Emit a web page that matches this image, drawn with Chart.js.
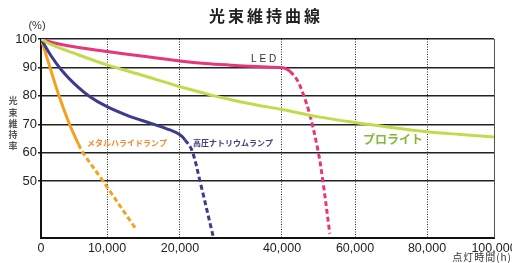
<!DOCTYPE html>
<html><head><meta charset="utf-8">
<script src="https://cdn.jsdelivr.net/npm/chart.js@4.4.1/dist/chart.umd.min.js"></script>
<style>html,body{margin:0;padding:0;background:#fff;overflow:hidden}</style>
</head><body>
<canvas id="c" width="512" height="263"></canvas>
<script>
// ---- data ----
const xTicks = [0, 10000, 20000, 40000, 60000, 80000, 100000];
const yTicks = [50, 60, 70, 80, 90, 100];

const ledHours  = [0, 2000, 5000, 10000, 15000, 20000, 25000, 30000, 35000, 40000, 41000, 42200, 44100, 45700, 47700, 49900, 51200, 53100];
const ledValues = [100, 98.6, 97.3, 95.6, 93.9, 92.3, 91.4, 90.8, 90.3, 89.9, 89.6, 88.6, 85.7, 81.0, 73.0, 60.5, 50.0, 31.5];
const ledDashFrom = 42200;

const proliteHours  = [0, 1400, 5000, 10000, 14500, 20000, 25000, 30000, 35000, 40000, 50000, 60000, 70000, 80000, 90000, 100000];
const proliteValues = [100, 98.2, 95.0, 90.9, 87.5, 83.2, 80.8, 78.6, 76.8, 75.2, 72.6, 70.6, 68.9, 67.4, 66.4, 65.5];

const sodiumHours  = [0, 1520, 3030, 5000, 7420, 10000, 13010, 16030, 18630, 20000, 20980, 22350, 23920, 26470];
const sodiumValues = [100, 94.1, 89.3, 84.4, 79.7, 76.2, 72.9, 70.3, 68.0, 66.3, 64.5, 60.8, 50, 30.8];
const sodiumDashFrom = 20980;

const halideHours  = [0, 700, 1360, 2730, 4320, 5680, 6360, 9390, 14000];
const halideValues = [100, 95, 90, 80, 70, 63, 60, 50, 33];
const halideDashFrom = 5680;

const seriesNames = ['LED', 'プロライト', '高圧ナトリウムランプ', 'メタルハライドランプ'];

// ---- segmented hour axis (tick spacing of the original drawing) ----
const AXIS_FRACTIONS = [0, 0.1457, 0.3068, 0.5320, 0.6932, 0.8521, 1];
function hoursToFraction(v) {
  const k = xTicks, f = AXIS_FRACTIONS, n = k.length - 1;
  if (v <= k[0]) return f[0] + (v - k[0]) / (k[1] - k[0]) * (f[1] - f[0]);
  for (let i = 1; i <= n; i++) {
    if (v <= k[i]) return f[i - 1] + (v - k[i - 1]) / (k[i] - k[i - 1]) * (f[i] - f[i - 1]);
  }
  return f[n] + (v - k[n]) / (k[n] - k[n - 1]) * (f[n] - f[n - 1]);
}
function fractionToHours(d) {
  const k = xTicks, f = AXIS_FRACTIONS, n = k.length - 1;
  for (let i = 1; i <= n; i++) {
    if (d <= f[i] || i === n) return k[i - 1] + (d - f[i - 1]) / (f[i] - f[i - 1]) * (k[i] - k[i - 1]);
  }
}
class SegmentedHoursScale extends Chart.LinearScale {
  getPixelForValue(value) {
    if (value === null || value === undefined || Number.isNaN(+value)) return NaN;
    return this.getPixelForDecimal(hoursToFraction(+value));
  }
  getValueForPixel(pixel) {
    return fractionToHours(this.getDecimalForPixel(pixel));
  }
}
SegmentedHoursScale.id = 'segmentedHours';
Chart.register(SegmentedHoursScale);

function pts(h, v) { return h.map((x, i) => ({ x: x, y: v[i] })); }
function dashAfter(hours, from) {
  return { borderDash: ctx => hours[ctx.p0DataIndex] >= from ? [5, 3] : undefined };
}

const annotations = {
  id: 'annotations',
  beforeDatasetsDraw(chart) {
    const ctx = chart.ctx, a = chart.chartArea;
    ctx.save();
    ctx.strokeStyle = '#555';
    ctx.lineWidth = 1;
    ctx.beginPath();
    ctx.moveTo(Math.round(a.right) + 0.5, a.top);
    ctx.lineTo(Math.round(a.right) + 0.5, a.bottom);
    ctx.stroke();
    ctx.restore();
  },
  afterDraw(chart) {
    const ctx = chart.ctx, xs = chart.scales.x, ys = chart.scales.y;
    ctx.save();
    ctx.textBaseline = 'middle';
    // title
    ctx.fillStyle = '#222';
    ctx.font = 'bold 16px "Noto Sans CJK JP"';
    ctx.letterSpacing = '3px';
    ctx.textAlign = 'left';
    ctx.fillText('光束維持曲線', 209, 16);
    // unit
    ctx.letterSpacing = '0px';
    ctx.font = '11px "Liberation Sans"';
    ctx.fillStyle = '#333';
    ctx.textAlign = 'center';
    ctx.fillText('(%)', 37, 26);
    // vertical y title
    ctx.font = 'bold 9px "Noto Sans CJK JP"';
    ctx.fillStyle = '#555';
    const yt = '光束維持率';
    for (let i = 0; i < yt.length; i++) ctx.fillText(yt[i], 13, 101 + i * 11.2);
    // x title
    ctx.font = '10px "Noto Sans CJK JP"';
    ctx.fillStyle = '#333';
    ctx.textAlign = 'right';
    ctx.letterSpacing = '1px';
    ctx.fillText('点灯時間(h)', 512, 257);
    // series labels
    ctx.textAlign = 'left';
    ctx.letterSpacing = '3px';
    ctx.font = '10px "Liberation Sans"';
    ctx.fillStyle = '#3a2a34';
    ctx.fillText(seriesNames[0], xs.getPixelForValue(33900), ys.getPixelForValue(93));
    ctx.letterSpacing = '0px';
    ctx.font = 'bold 12px "Noto Sans CJK JP"';
    ctx.fillStyle = '#86b83a';
    ctx.fillText(seriesNames[1], xs.getPixelForValue(62200), ys.getPixelForValue(64.7));
    ctx.font = 'bold 8px "Noto Sans CJK JP"';
    ctx.fillStyle = '#3f3d80';
    ctx.fillText(seriesNames[2], xs.getPixelForValue(22550), ys.getPixelForValue(63.4));
    ctx.fillStyle = '#ef8a2e';
    ctx.fillText(seriesNames[3], xs.getPixelForValue(6970), ys.getPixelForValue(63.4));
    ctx.restore();
  }
};

new Chart(document.getElementById('c'), {
  type: 'line',
  data: {
    datasets: [
      { label: seriesNames[1], data: pts(proliteHours, proliteValues), borderColor: '#c3da4c' },
      { label: seriesNames[0], data: pts(ledHours, ledValues), borderColor: '#e4387a', segment: dashAfter(ledHours, ledDashFrom) },
      { label: seriesNames[2], data: pts(sodiumHours, sodiumValues), borderColor: '#3c3b8c', segment: dashAfter(sodiumHours, sodiumDashFrom) },
      { label: seriesNames[3], data: pts(halideHours, halideValues), borderColor: '#f6a11e', segment: dashAfter(halideHours, halideDashFrom) }
    ]
  },
  options: {
    responsive: false,
    animation: false,
    devicePixelRatio: 1,
    layout: { padding: { left: 0, right: 18, top: 39, bottom: 0 } },
    plugins: { legend: { display: false }, tooltip: { enabled: false }, title: { display: false } },
    elements: {
      point: { radius: 0, hoverRadius: 0 },
      line: { borderWidth: 3, tension: 0.35, fill: false }
    },
    scales: {
      x: {
        type: 'segmentedHours', min: 0, max: 100000,
        afterBuildTicks: s => { s.ticks = xTicks.map(v => ({ value: v })); },
        afterFit: s => { s.height = 25; s.paddingLeft = 0; s.paddingRight = 0; },
        ticks: {
          autoSkip: false, maxRotation: 0, minRotation: 0, padding: 3, color: '#222',
          font: { family: '"Liberation Sans Narrow", "Liberation Sans", Arial', size: 12.5 },
          callback: v => Number(v).toLocaleString('en-US')
        },
        grid: {
          drawTicks: false, lineWidth: 1,
          color: ctx => (ctx.tick && ctx.tick.value === 0) ? 'rgba(0,0,0,0)' : '#222'
        },
        border: { display: true, color: '#111', width: 2, dash: [1, 1.5] }
      },
      y: {
        min: 30, max: 100,
        afterBuildTicks: s => { s.ticks = yTicks.map(v => ({ value: v })); },
        afterFit: s => { s.width = 41; },
        ticks: { padding: 1, color: '#222', font: { family: '"Liberation Sans", Arial', size: 13 } },
        grid: { color: '#222', lineWidth: 1.5, tickLength: 3, drawTicks: true },
        border: { color: '#111', width: 2 }
      }
    }
  },
  plugins: [annotations]
});
</script>
</body></html>
